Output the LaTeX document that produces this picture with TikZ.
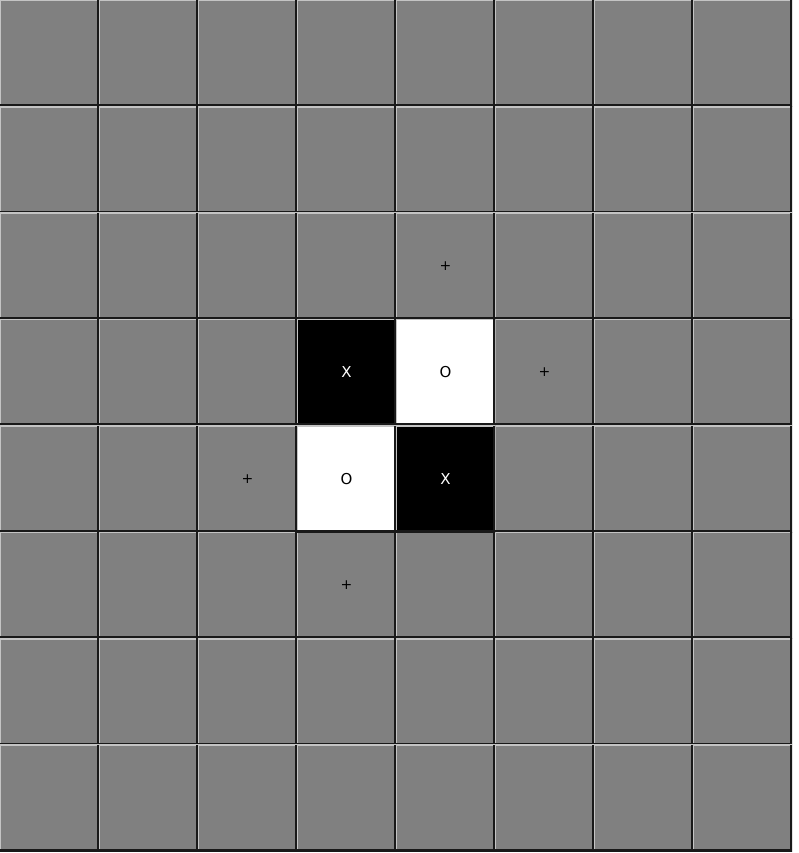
\documentclass[tikz,border=0pt]{standalone}
\usepackage{fontspec}
\setmainfont{DejaVu Sans}
\usetikzlibrary{positioning}
\definecolor{cellgray}{RGB}{128,128,128}
\definecolor{edgelight}{RGB}{196,196,196}
\definecolor{edgedark}{RGB}{25,25,25}
\begin{document}
\begin{tikzpicture}[
    x=1pt, y=1pt,
    cell/.style={fill=cellgray, minimum width=99pt, minimum height=106.4pt,
      inner sep=0pt, outer sep=0pt, font=\fontsize{15}{17}\selectfont,
      path picture={
        \draw[edgelight, line width=2.4pt]
          (path picture bounding box.south west) -- (path picture bounding box.north west)
          -- (path picture bounding box.north east);
        \draw[edgedark, line width=4.4pt]
          (path picture bounding box.north east) -- (path picture bounding box.south east)
          -- (path picture bounding box.south west);
      }},
    xcell/.style={cell, fill=black, text=white},
    ocell/.style={cell, fill=white, text=black},
    hint/.style={font=\fontsize{14}{15}\selectfont, inner sep=0pt}
  ]
  \useasboundingbox[fill=white] (0,0) rectangle (798,-853);
  %---- BOARD ----
  \foreach \r in {0,...,7}{
    \foreach \c in {0,...,7}{
      \node[cell] (c-\c-\r) at (\c*99+49.5, -\r*106.4-53.2) {};
    }
  }
  %---- STONES ----
  \node[xcell] (x-3-3) at (c-3-3) {X};
  \node[ocell] (o-4-3) at (c-4-3) {O};
  \node[ocell] (o-3-4) at (c-3-4) {O};
  \node[xcell] (x-4-4) at (c-4-4) {X};
  %---- MOVES ----
  \node[hint] (m-4-2) at (c-4-2) {+};
  \node[hint] (m-5-3) at (c-5-3) {+};
  \node[hint] (m-2-4) at (c-2-4) {+};
  \node[hint] (m-3-5) at (c-3-5) {+};
\end{tikzpicture}
\end{document}
